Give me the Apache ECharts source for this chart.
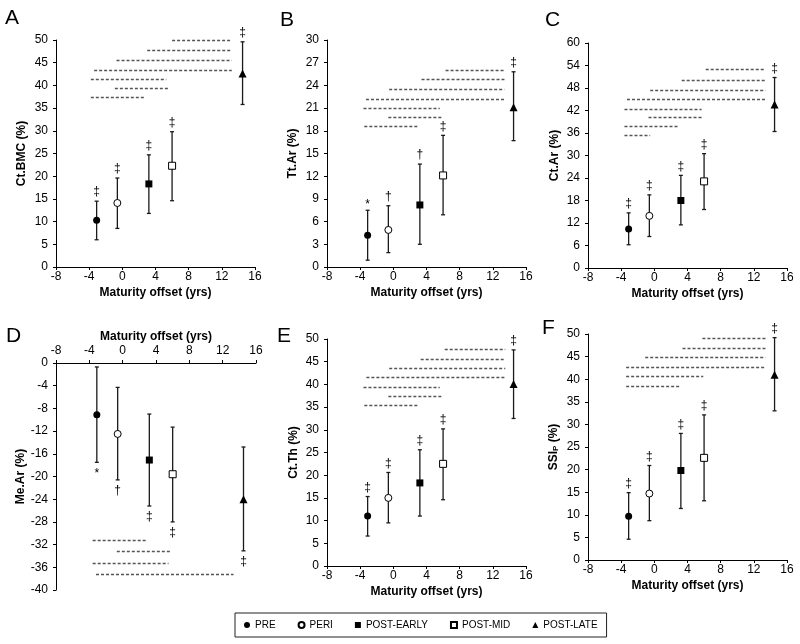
<!DOCTYPE html>
<html><head><meta charset="utf-8">
<script src="https://cdn.jsdelivr.net/npm/echarts@6/dist/echarts.min.js"></script>
<style>html,body{margin:0;padding:0;background:#fff}#c{width:800px;height:644px}</style>
</head><body><div id="c"></div>
<script>
// ---- data ----
const groups = ['PRE', 'PERI', 'POST-EARLY', 'POST-MID', 'POST-LATE'];
const xOffset = [-3.1, -0.6, 3.2, 6.0, 14.5];
const xTicks = [-8, -4, 0, 4, 8, 12, 16];

// A: Ct.BMC (%)
const aMean = [10.3, 14.1, 18.3, 22.3, 42.6];
const aLow  = [6.0, 8.5, 11.8, 14.6, 35.8];
const aHigh = [14.5, 19.6, 24.7, 29.8, 49.6];
const aSig  = ['‡', '‡', '‡', '‡', '‡'];
const aPairs = [[6.0, 13.2, 50.0], [3.0, 13.2, 47.8], [-0.7, 13.2, 45.7], [-3.4, 13.2, 43.5], [-3.8, 5.3, 41.4], [-0.9, 5.5, 39.4], [-3.8, 2.6, 37.4]];

// B: Tt.Ar (%)
const bMean = [4.2, 4.9, 8.2, 12.1, 21.1];
const bLow  = [0.9, 1.9, 3.0, 6.9, 16.7];
const bHigh = [7.5, 8.1, 13.6, 17.4, 25.8];
const bSig  = ['*', '†', '†', '‡', '‡'];
const bPairs = [[6.3, 13.4, 26.1], [3.4, 13.4, 24.8], [-0.5, 13.4, 23.5], [-3.3, 13.4, 22.2], [-3.6, 5.6, 21.0], [-0.6, 5.9, 19.8], [-3.5, 3.0, 18.6]];

// C: Ct.Ar (%)
const cMean = [10.4, 13.9, 18.0, 23.1, 43.6];
const cLow  = [6.2, 8.4, 11.5, 15.6, 36.4];
const cHigh = [14.7, 19.5, 24.7, 30.5, 50.8];
const cSig  = ['‡', '‡', '‡', '‡', '‡'];
const cPairs = [[6.2, 13.4, 53.0], [3.3, 13.4, 50.2], [-0.5, 13.4, 47.6], [-3.3, 13.4, 45.1], [-3.6, 5.7, 42.5], [-0.7, 5.8, 40.2], [-3.6, 3.0, 37.8], [-3.6, -0.5, 35.4]];

// D: Me.Ar (%)
const dMean = [-9.1, -12.5, -17.1, -19.6, -24.0];
const dLow  = [-17.5, -20.6, -25.2, -28.0, -33.1];
const dHigh = [-0.7, -4.3, -9.0, -11.3, -14.8];
const dSig  = ['*', '†', '‡', '‡', '‡'];
const dPairs = [[-3.6, 2.9, -31.2], [-0.7, 5.8, -33.1], [-3.6, 5.5, -35.2], [-3.2, 13.3, -37.1]];

// E: Ct.Th (%)
const eMean = [11.0, 15.0, 18.3, 22.5, 40.1];
const eLow  = [6.6, 9.5, 11.0, 14.6, 32.5];
const eHigh = [15.3, 20.6, 25.6, 30.2, 47.6];
const eSig  = ['‡', '‡', '‡', '‡', '‡'];
const ePairs = [[6.2, 13.5, 47.8], [3.3, 13.5, 45.7], [-0.5, 13.5, 43.7], [-3.25, 13.5, 41.6], [-3.6, 5.6, 39.5], [-0.6, 5.8, 37.5], [-3.5, 3.0, 35.4]];

// F: SSIp (%)
const fMean = [9.7, 14.7, 19.8, 22.6, 41.0];
const fLow  = [4.6, 8.7, 11.4, 13.1, 33.0];
const fHigh = [14.9, 20.9, 28.0, 32.1, 49.2];
const fSig  = ['‡', '‡', '‡', '‡', '‡'];
const fPairs = [[5.8, 13.4, 49.2], [3.4, 13.4, 47.0], [-1.1, 13.4, 44.9], [-3.4, 13.4, 42.8], [-3.4, 5.9, 40.7], [-3.4, 3.2, 38.6]];

const panelLetters = ['A', 'B', 'C', 'D', 'E', 'F'];
const yNames = ['Ct.BMC (%)', 'Tt.Ar (%)', 'Ct.Ar (%)', 'Me.Ar (%)', 'Ct.Th (%)', 'SSI{sub|P} (%)'];
const yMin = [0, 0, 0, -40, 0, 0];
const yMax = [50, 30, 60, 0, 50, 50];
const yStep = [5, 3, 6, 4, 5, 5];

// ---- build ----
const FONT = '"Liberation Sans", Arial, Helvetica, sans-serif';
const panels = [
  {mean: aMean, low: aLow, high: aHigh, sig: aSig, pairs: aPairs},
  {mean: bMean, low: bLow, high: bHigh, sig: bSig, pairs: bPairs},
  {mean: cMean, low: cLow, high: cHigh, sig: cSig, pairs: cPairs},
  {mean: dMean, low: dLow, high: dHigh, sig: dSig, pairs: dPairs, below: true},
  {mean: eMean, low: eLow, high: eHigh, sig: eSig, pairs: ePairs},
  {mean: fMean, low: fLow, high: fHigh, sig: fSig, pairs: fPairs}
];
const grids = [
  {left: 56, top: 40, width: 199, height: 227},
  {left: 327, top: 40, width: 199, height: 227},
  {left: 588, top: 43, width: 199, height: 225},
  {left: 56, top: 363, width: 200, height: 227},
  {left: 327, top: 339, width: 199, height: 227},
  {left: 588, top: 334, width: 199, height: 226}
];
const letterPos = [[5, 18], [280, 20], [545, 20], [6, 336.5], [277, 336.5], [542, 328.5]];
const yNameGap = [28, 28, 27, 28, 27, 28];

const markerStyle = [
  {symbol: 'circle', size: 7, style: {color: '#000'}},
  {symbol: 'circle', size: 7, style: {color: '#fff', borderColor: '#000', borderWidth: 1}},
  {symbol: 'rect', size: 7, style: {color: '#000'}},
  {symbol: 'rect', size: 7, style: {color: '#fff', borderColor: '#000', borderWidth: 1}},
  {symbol: 'triangle', size: 8, style: {color: '#000'}}
];

const xAxes = [], yAxes = [], series = [];
panels.forEach((p, i) => {
  const top = !!p.below;
  xAxes.push({
    gridIndex: i, type: 'value', min: xTicks[0], max: xTicks[xTicks.length - 1], interval: 4,
    position: top ? 'top' : 'bottom',
    name: 'Maturity offset (yrs)', nameLocation: 'middle', nameGap: 20,
    nameTextStyle: {fontFamily: FONT, fontWeight: 'bold', fontSize: 12, color: '#000'},
    axisLine: {onZero: false, lineStyle: {color: '#000', width: 1}},
    axisTick: {show: true, inside: false, length: 3, lineStyle: {color: '#000'}},
    axisLabel: {fontFamily: FONT, fontSize: 12, color: '#000', margin: top ? 6 : 4},
    splitLine: {show: false}
  });
  yAxes.push({
    gridIndex: i, type: 'value', min: yMin[i], max: yMax[i], interval: yStep[i],
    name: yNames[i], nameLocation: 'middle', nameGap: yNameGap[i],
    nameTextStyle: {fontFamily: FONT, fontWeight: 'bold', fontSize: 12, color: '#000',
      rich: {sub: {fontFamily: FONT, fontWeight: 'bold', fontSize: 8, color: '#000', verticalAlign: 'bottom', padding: [5, 0, 0, 0]}}},
    axisLine: {show: true, onZero: false, lineStyle: {color: '#000', width: 1}},
    axisTick: {show: true, inside: false, length: 3, lineStyle: {color: '#000'}},
    axisLabel: {fontFamily: FONT, fontSize: 12, color: '#000', margin: 8},
    splitLine: {show: false}
  });
  // significance dashed lines
  series.push({
    type: 'custom', xAxisIndex: i, yAxisIndex: i, z: 1, silent: true,
    data: p.pairs, encode: {x: [0, 1], y: 2},
    renderItem: (params, api) => {
      const a = api.coord([api.value(0), api.value(2)]);
      const b = api.coord([api.value(1), api.value(2)]);
      return {type: 'line', shape: {x1: a[0], y1: Math.round(a[1]) + 0.5, x2: b[0], y2: Math.round(b[1]) + 0.5},
        style: {stroke: '#555', lineWidth: 1.3, lineDash: [3, 2]}};
    }
  });
  // error bars
  series.push({
    type: 'custom', xAxisIndex: i, yAxisIndex: i, z: 2, silent: true,
    data: xOffset.map((x, g) => [x, p.low[g], p.high[g]]), encode: {x: 0, y: [1, 2]},
    renderItem: (params, api) => {
      const lo = api.coord([api.value(0), api.value(1)]);
      const hi = api.coord([api.value(0), api.value(2)]);
      const w = 2;
      const st = {stroke: '#1a1a1a', lineWidth: 1.3};
      return {type: 'group', children: [
        {type: 'line', shape: {x1: lo[0], y1: lo[1], x2: hi[0], y2: hi[1]}, style: st},
        {type: 'line', shape: {x1: lo[0] - w, y1: lo[1], x2: lo[0] + w, y2: lo[1]}, style: st},
        {type: 'line', shape: {x1: hi[0] - w, y1: hi[1], x2: hi[0] + w, y2: hi[1]}, style: st}
      ]};
    }
  });
  // significance symbols
  series.push({
    type: 'custom', xAxisIndex: i, yAxisIndex: i, z: 3, silent: true,
    data: xOffset.map((x, g) => [x, p.below ? p.low[g] : p.high[g]]), encode: {x: 0, y: 1},
    renderItem: (params, api) => {
      const pt = api.coord([api.value(0), api.value(1)]);
      const s = p.sig[params.dataIndex];
      let dy;
      if (p.below) dy = 11;
      else dy = s === '*' ? -6 : -9;
      return {type: 'text', x: pt[0], y: pt[1] + dy,
        style: {text: s, fill: '#000', font: '12px ' + FONT, textAlign: 'center', textVerticalAlign: 'middle'}};
    }
  });
  // markers
  groups.forEach((name, g) => {
    const m = markerStyle[g];
    series.push({
      type: 'scatter', name: name, xAxisIndex: i, yAxisIndex: i, z: 4, silent: true,
      symbol: m.symbol, symbolSize: m.size, itemStyle: Object.assign({opacity: 1}, m.style),
      data: [[xOffset[g], p.mean[g]]]
    });
  });
});

const option = {
  animation: false,
  backgroundColor: '#fff',
  grid: grids,
  xAxis: xAxes,
  yAxis: yAxes,
  series: series,
  legend: {
    left: 235, top: 613, orient: 'horizontal', selectedMode: false,
    itemGap: 22, itemWidth: 6, itemHeight: 6,
    padding: [7, 9, 7, 9], borderColor: '#222', borderWidth: 1,
    textStyle: {fontFamily: FONT, fontSize: 10, color: '#000'},
    data: groups.map((name, g) => ({name: name, icon: markerStyle[g].symbol}))
  },
  graphic: panelLetters.map((t, i) => ({
    type: 'text', x: letterPos[i][0], y: letterPos[i][1],
    style: {text: t, fill: '#000', font: '21px ' + FONT, textVerticalAlign: 'middle'}
  }))
};
const chart = echarts.init(document.getElementById('c'), null, {renderer: 'canvas'});
chart.setOption(option);
</script>
</body></html>
